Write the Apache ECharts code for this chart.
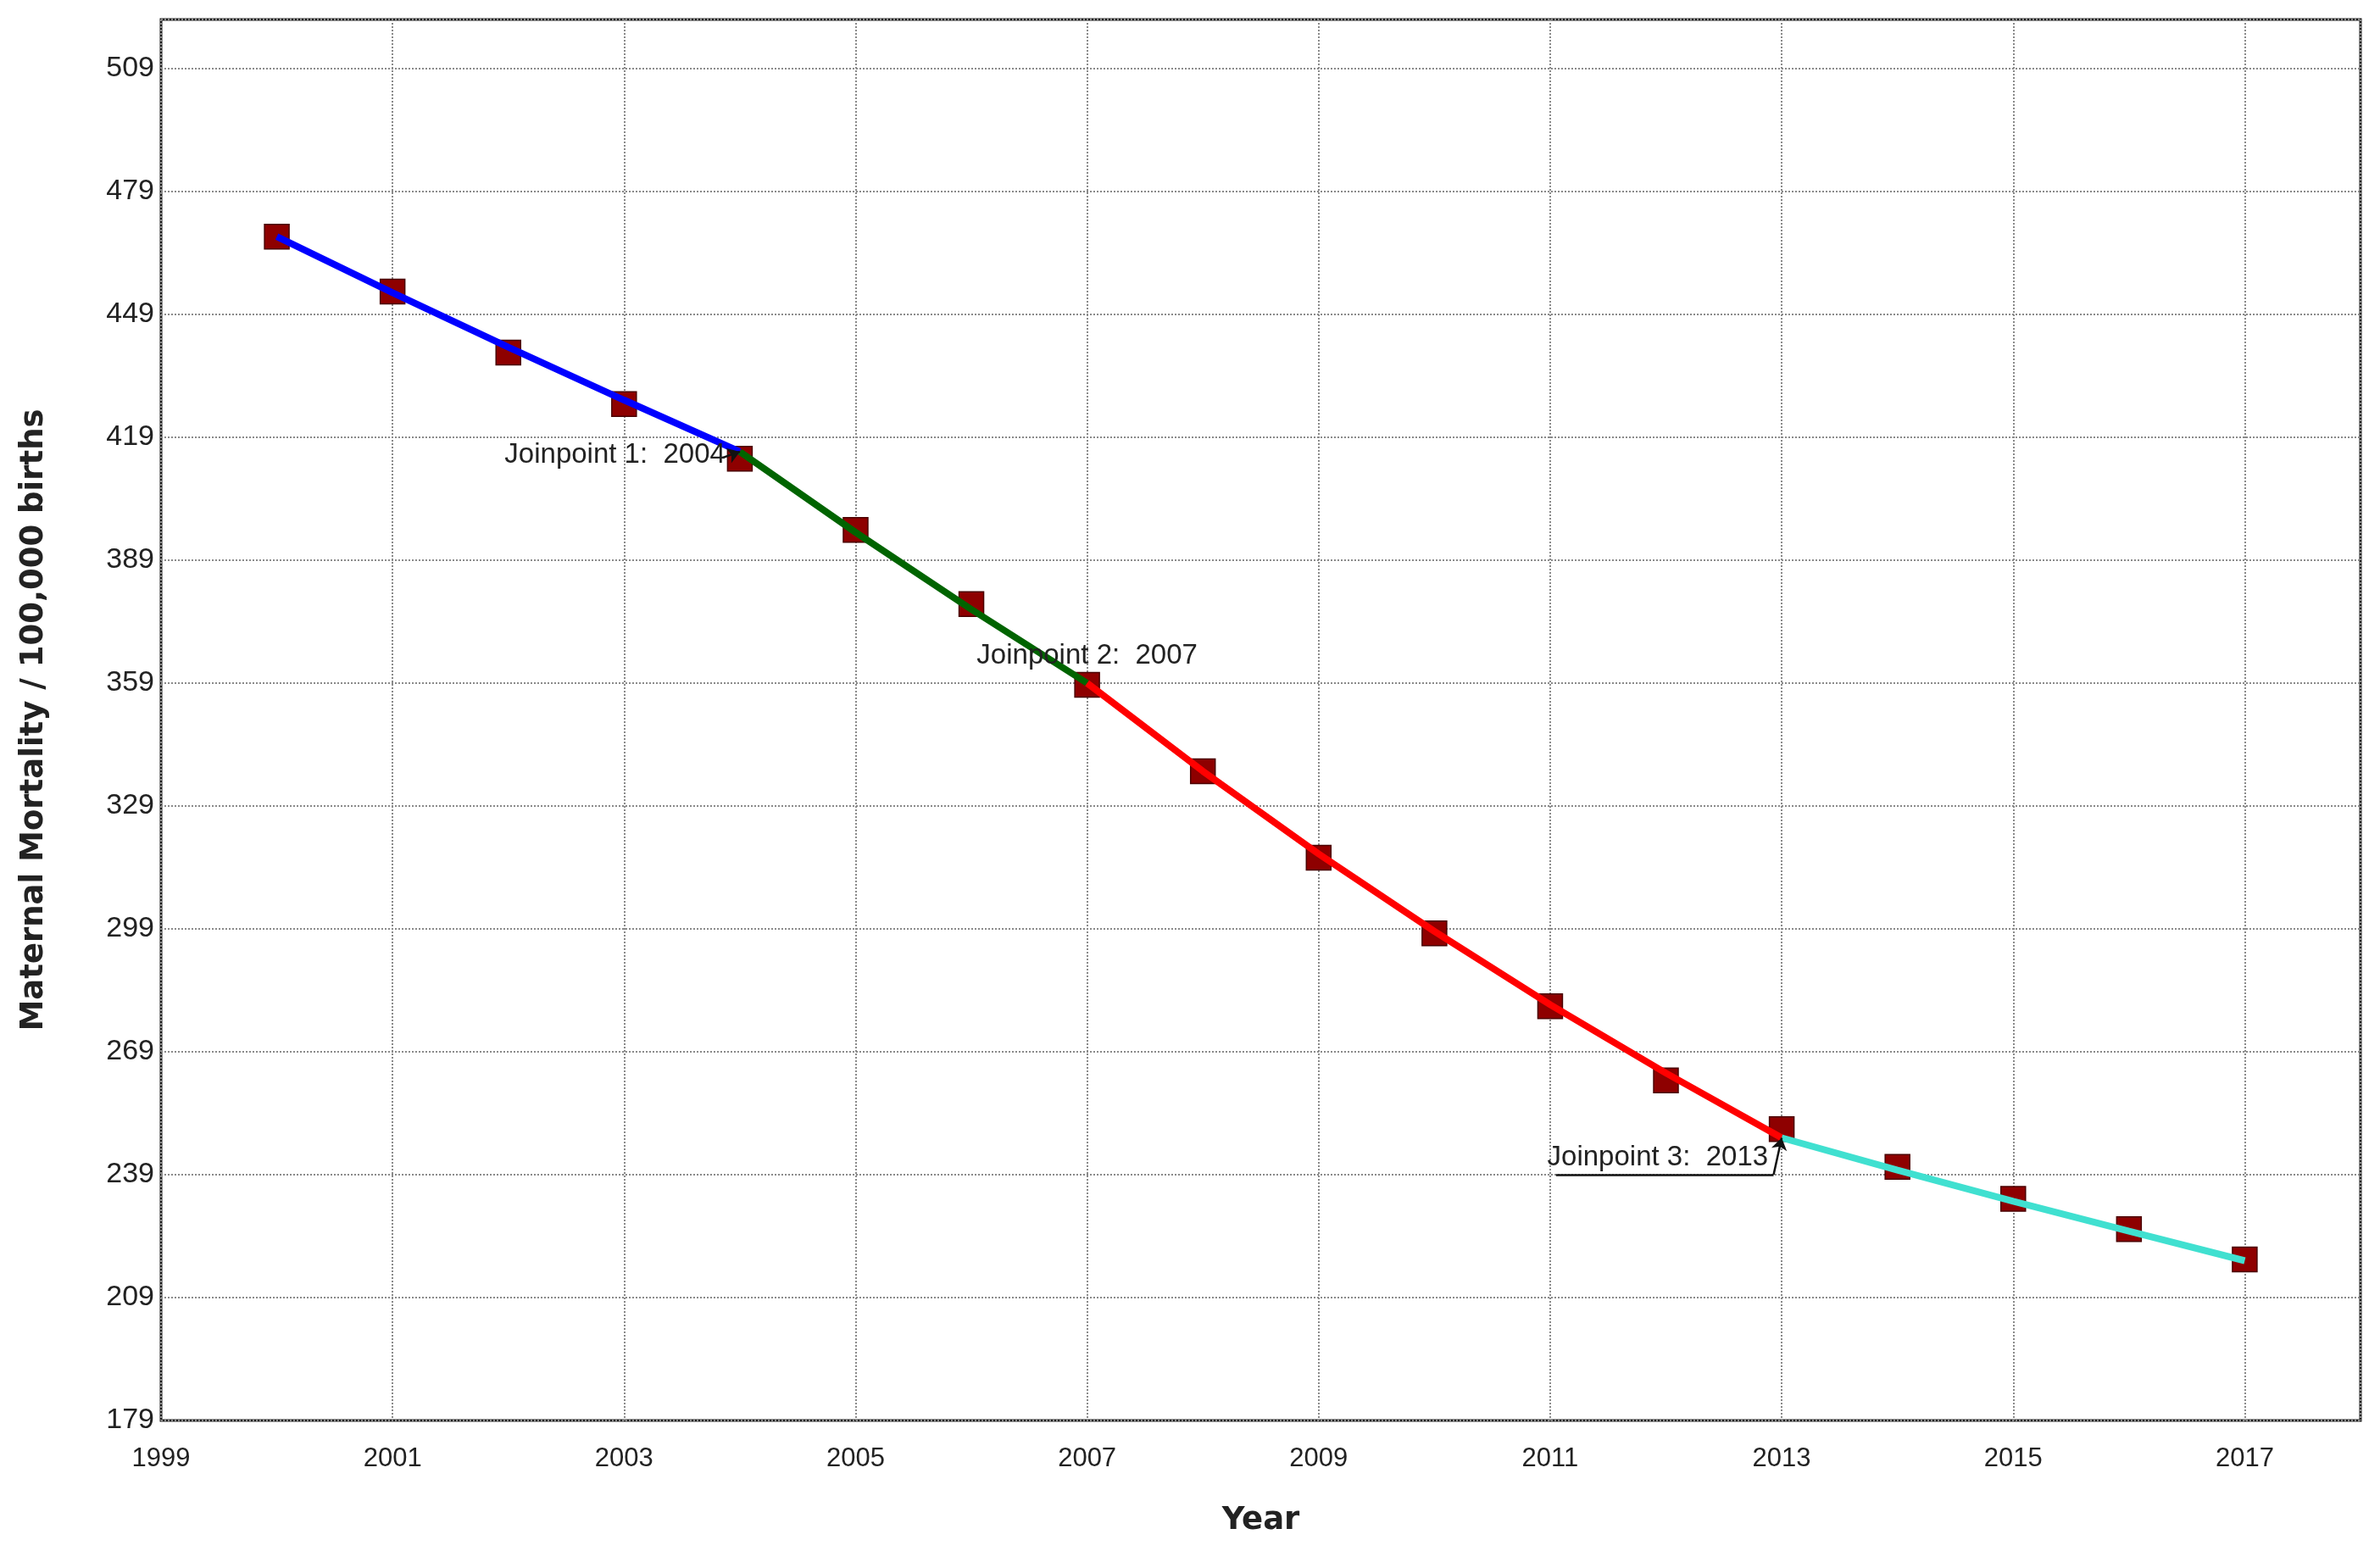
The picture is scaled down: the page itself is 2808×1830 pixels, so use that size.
<!DOCTYPE html>
<html><head><meta charset="utf-8">
<script src="https://cdn.jsdelivr.net/npm/echarts@6/dist/echarts.min.js"></script>
<style>html,body{margin:0;padding:0;background:#fff}#c{width:2808px;height:1830px}</style>
</head><body><div id="c"></div>
<script>
// ---- data ----
const years = [2000, 2001, 2002, 2003, 2004, 2005, 2006, 2007, 2008, 2009, 2010, 2011, 2012, 2013, 2014, 2015, 2016, 2017];
const observed = [468.0, 454.6, 439.7, 427.1, 413.8, 396.4, 378.3, 358.6, 337.5, 316.4, 297.9, 280.1, 262.0, 250.1, 240.9, 233.1, 225.7, 218.3];

const seg1Years = [2000, 2001, 2002, 2003, 2004];
const seg1Fit   = [468.0, 454.3, 441.0, 428.1, 415.5];
const seg2Years = [2004, 2005, 2006, 2007];
const seg2Fit   = [415.5, 395.8, 377.0, 359.0];
const seg3Years = [2007, 2008, 2009, 2010, 2011, 2012, 2013];
const seg3Fit   = [359.0, 337.5, 317.3, 298.4, 280.5, 263.8, 248.0];
const seg4Years = [2013, 2014, 2015, 2016, 2017];
const seg4Fit   = [248.0, 240.1, 232.5, 225.2, 218.0];

const joinpointYears  = [2004, 2007, 2013];
const joinpointValues = [415.5, 359.0, 248.0];

const xMin = 1999, xMax = 2018, xStep = 2;
const yMin = 179, yMax = 521, yStep = 30;

const xTitle = 'Year';
const yTitle = 'Maternal Mortality / 100,000 births';

// ---- build ----
const pairs = (xs, ys) => xs.map((x, i) => [x, ys[i]]);
const jpLabel = i => 'Joinpoint ' + (i + 1) + ':  ' + joinpointYears[i];

const tickFont = "'Liberation Sans', Arial, sans-serif";
const titleFont = "'DejaVu Sans', Verdana, sans-serif";
const annFont = tickFont;

function segLine(name, xs, ys, color, extra) {
  return Object.assign({
    name, type: 'line', data: pairs(xs, ys), showSymbol: false, symbol: 'none',
    lineStyle: { color, width: 8 }, itemStyle: { color }, z: 3, silent: true
  }, extra || {});
}

const annLabel = (i, pos, dist, offset) => ({
  coord: [joinpointYears[i], joinpointValues[i]],
  symbol: 'circle', symbolSize: 0,
  label: {
    show: true, formatter: jpLabel(i), position: pos, distance: dist, offset,
    fontFamily: annFont, fontSize: 33, color: '#222'
  }
});

const arrowStyle = { color: '#111', width: 2.5, type: 'solid' };
const gridLine = { show: true, lineStyle: { color: '#8a8a8a', width: 2, type: [2, 2] } };

const option = {
  animation: false,
  backgroundColor: '#fff',
  grid: {
    left: 190, right: 23, top: 23, bottom: 154,
    show: true, borderColor: '#1c1c1c', borderWidth: 3, backgroundColor: '#fff',
    outerBoundsMode: 'none'
  },
  xAxis: {
    type: 'value', min: xMin, max: xMax, interval: xStep,
    name: xTitle, nameLocation: 'middle', nameGap: 100,
    nameTextStyle: { fontFamily: titleFont, fontWeight: 'bold', fontSize: 37, color: '#222' },
    axisLine: { show: false }, axisTick: { show: false },
    axisLabel: { fontFamily: tickFont, fontSize: 31, color: '#222', margin: 30, showMaxLabel: false, showMinLabel: true,
      formatter: v => String(v) },
    splitLine: gridLine
  },
  yAxis: {
    type: 'value', min: yMin, max: yMax, interval: yStep,
    name: yTitle, nameLocation: 'middle', nameGap: 131, nameRotate: 90,
    nameTextStyle: { fontFamily: titleFont, fontWeight: 'bold', fontSize: 37, color: '#222' },
    axisLine: { show: false }, axisTick: { show: false },
    axisLabel: { fontFamily: tickFont, fontSize: 34, color: '#222', margin: 8, showMaxLabel: false, showMinLabel: true,
      formatter: v => String(v) },
    splitLine: gridLine
  },
  series: [
    {
      name: 'Observed', type: 'scatter', data: pairs(years, observed),
      symbol: 'rect', symbolSize: 29, z: 2, silent: true,
      itemStyle: { color: '#8e0000', borderColor: '#4a0000', borderWidth: 1.5, opacity: 1 }
    },
    segLine('Segment 1', seg1Years, seg1Fit, '#0000ff', {
      markPoint: { silent: true, data: [annLabel(0, 'left', 17, [0, 4])] },
      markLine: {
        silent: true, symbol: ['none', 'arrow'], symbolSize: 14, label: { show: false },
        lineStyle: arrowStyle,
        data: [[{ coord: [joinpointYears[0] - 0.15, joinpointValues[0] - 1.5] }, { coord: [joinpointYears[0], joinpointValues[0]] }]]
      }
    }),
    segLine('Segment 2', seg2Years, seg2Fit, '#006400', {
      markPoint: { silent: true, data: [annLabel(1, 'top', 16, [0, 0])] }
    }),
    segLine('Segment 3', seg3Years, seg3Fit, '#ff0000', {
      markPoint: { silent: true, data: [annLabel(2, 'left', 16, [0, 23])] },
      markLine: {
        silent: true, label: { show: false }, lineStyle: arrowStyle,
        data: [
          [{ coord: [joinpointYears[2] - 1.95, 239], symbol: 'none' }, { coord: [joinpointYears[2] - 0.07, 239], symbol: 'none' }],
          [{ coord: [joinpointYears[2] - 0.07, 239], symbol: 'none' }, { coord: [joinpointYears[2], joinpointValues[2]], symbol: 'arrow', symbolSize: 14 }]
        ]
      }
    }),
    segLine('Segment 4', seg4Years, seg4Fit, '#40e0d0')
  ]
};

const chart = echarts.init(document.getElementById('c'), null, { renderer: 'canvas' });
chart.setOption(option);
</script>
</body></html>
